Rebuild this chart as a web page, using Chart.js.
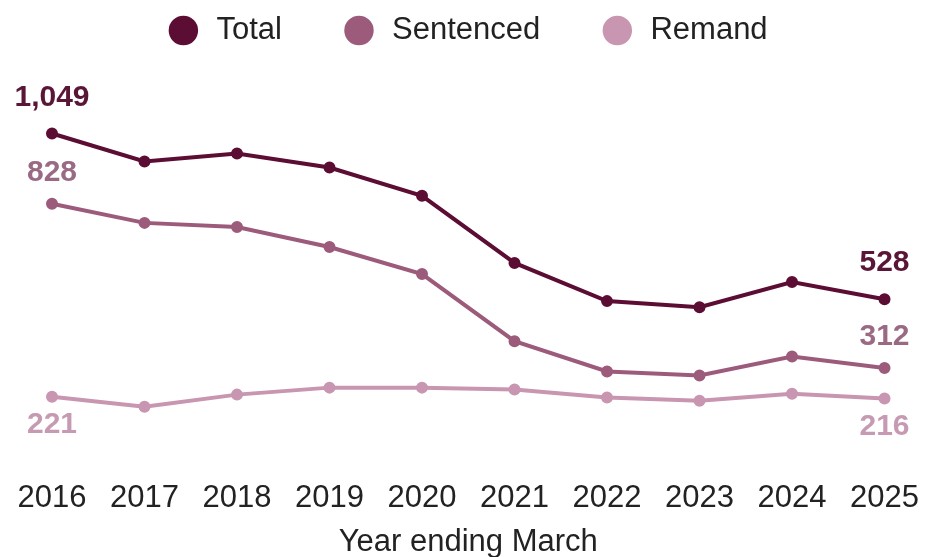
<!DOCTYPE html>
<html>
<head>
<meta charset="utf-8">
<script src="https://cdn.jsdelivr.net/npm/chart.js@4.4.3/dist/chart.umd.min.js"></script>
<style>
    html, body { margin: 0; padding: 0; background: #ffffff; }
    #wrap { width: 929px; height: 557px; position: relative; }
</style>
</head>
<body>
<div id="wrap"><canvas id="chart"></canvas></div>
<script>
// Year ending March
const years = ['2016', '2017', '2018', '2019', '2020', '2021', '2022', '2023', '2024', '2025'];

const total = [1049, 961, 986, 942, 853, 642, 522, 503, 582, 528];
const sentenced = [828, 768, 755, 692, 607, 396, 301, 288, 348, 312];
const remand = [221, 190, 228, 250, 250, 244, 219, 209, 231, 216];

const FONT = "'Liberation Sans', Arial, sans-serif";
const colors = {
    total: '#5c0d33',
    sentenced: '#9d5b7c',
    remand: '#c896b1'
};

// Value labels on the first and last point of every line
const endLabels = {
    id: 'endLabels',
    afterDatasetsDraw(chart, args, opts) {
        const ctx = chart.ctx;
        ctx.save();
        ctx.font = `bold ${opts.size}px ${FONT}`;
        ctx.textAlign = 'center';
        ctx.textBaseline = 'middle';
        chart.data.datasets.forEach((ds, i) => {
            const meta = chart.getDatasetMeta(i);
            const dy = opts.offsets[i];
            [0, ds.data.length - 1].forEach(idx => {
                const pt = meta.data[idx];
                ctx.fillStyle = opts.colors[i];
                ctx.fillText(ds.data[idx].toLocaleString('en-GB'), pt.x, pt.y + dy);
            });
        });
        ctx.restore();
    }
};

function line(label, data, color) {
    return {
        label: label,
        data: data,
        borderColor: color,
        backgroundColor: color,
        borderWidth: 4,
        pointRadius: 4,
        pointHoverRadius: 5,
        tension: 0
    };
}

new Chart(document.getElementById('chart'), {
    type: 'line',
    data: {
        labels: years,
        datasets: [
            line('Total', total, colors.total),
            line('Sentenced', sentenced, colors.sentenced),
            line('Remand', remand, colors.remand)
        ]
    },
    options: {
        responsive: true,
        maintainAspectRatio: false,
        animation: false,
        layout: { padding: { top: -53, left: 52, right: 39, bottom: -4 } },
        plugins: {
            legend: {
                labels: {
                    usePointStyle: true,
                    pointStyle: 'circle',
                    boxWidth: 18,
                    boxHeight: 18,
                    padding: 68,
                    color: '#222222',
                    font: { family: FONT, size: 31 },
                    generateLabels(chart) {
                        return Chart.defaults.plugins.legend.labels.generateLabels(chart)
                            .map(item => ({ ...item, text: ' ' + item.text }));
                    }
                }
            },
            tooltip: { enabled: false },
            endLabels: {
                size: 30,
                offsets: [-36, -31, 28],
                colors: ['#5a1637', '#9a6a84', '#c79ab3']
            }
        },
        scales: {
            x: {
                offset: false,
                grid: { display: false, drawTicks: false },
                border: { display: false },
                ticks: {
                    color: '#222222',
                    font: { family: FONT, size: 31, lineHeight: 1.0 },
                    padding: 10,
                    maxRotation: 0,
                    autoSkip: false
                },
                title: {
                    display: true,
                    text: 'Year ending March',
                    color: '#222222',
                    font: { family: FONT, size: 31 },
                    padding: { top: 0, bottom: 0 }
                }
            },
            y: {
                display: false,
                min: -17.8,
                max: 1292.7
            }
        }
    },
    plugins: [endLabels]
});
</script>
</body>
</html>
